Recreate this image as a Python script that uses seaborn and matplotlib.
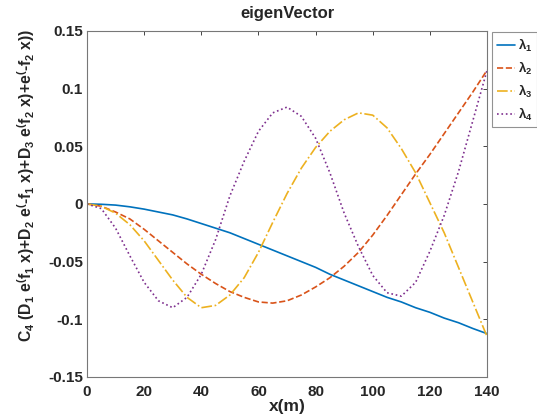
import numpy as np
import pandas as pd
import seaborn as sns
import matplotlib
matplotlib.use("Agg")
import matplotlib.pyplot as plt

x_m = [0, 5, 10, 15, 20, 25, 30, 35, 40, 45, 50, 55, 60, 65, 70,
       75, 80, 85, 90, 95, 100, 105, 110, 115, 120, 125, 130, 135, 140]

lambda1 = [0, -0.0003, -0.001, -0.0025, -0.0045, -0.007, -0.0095, -0.013, -0.017,
           -0.021, -0.025, -0.030, -0.035, -0.040, -0.045, -0.050, -0.055, -0.061,
           -0.066, -0.071, -0.076, -0.081, -0.085, -0.090, -0.094, -0.099, -0.103,
           -0.108, -0.1125]
lambda2 = [0, -0.002, -0.007, -0.013, -0.022, -0.032, -0.042, -0.052, -0.061,
           -0.069, -0.076, -0.081, -0.085, -0.086, -0.084, -0.079, -0.072, -0.064,
           -0.054, -0.042, -0.027, -0.010, 0.008, 0.026, 0.043, 0.061, 0.079,
           0.097, 0.116]
lambda3 = [0, -0.002, -0.008, -0.018, -0.032, -0.049, -0.066, -0.081, -0.090,
           -0.088, -0.079, -0.064, -0.042, -0.016, 0.009, 0.031, 0.049, 0.063,
           0.073, 0.079, 0.077, 0.066, 0.048, 0.027, 0.001, -0.025, -0.055,
           -0.085, -0.115]
lambda4 = [0, -0.004, -0.021, -0.045, -0.068, -0.084, -0.090, -0.081, -0.061,
           -0.031, 0.007, 0.037, 0.063, 0.079, 0.084, 0.076, 0.057, 0.027,
           -0.008, -0.037, -0.062, -0.077, -0.080, -0.068, -0.041, -0.010, 0.028,
           0.072, 0.116]

labels = [r"$\lambda_1$", r"$\lambda_2$", r"$\lambda_3$", r"$\lambda_4$"]
series = [lambda1, lambda2, lambda3, lambda4]
colors = ["#0072BD", "#D95319", "#EDB120", "#7E2F8E"]
styles = ["-", "--", "-.", ":"]

x_ticks = [0, 20, 40, 60, 80, 100, 120, 140]
y_ticks = [-0.15, -0.1, -0.05, 0, 0.05, 0.1, 0.15]
y_tick_labels = ["-0.15", "-0.1", "-0.05", "0", "0.05", "0.1", "0.15"]

sns.set_theme(style="white")
plt.rcParams["font.family"] = ["Liberation Sans", "DejaVu Sans"]
plt.rcParams["font.weight"] = "bold"
plt.rcParams["mathtext.default"] = "regular"

fig = plt.figure(figsize=(5.37, 4.16), dpi=100)
ax = fig.add_axes([0.162, 0.094, 0.745, 0.8315])

for vals, lab, col, ls in zip(series, labels, colors, styles):
    df = pd.DataFrame({"x": x_m, "y": vals})
    sns.lineplot(data=df, x="x", y="y", ax=ax, color=col, linestyle=ls,
                 linewidth=1.2, label=lab)

ax.set_xlim(0, 140)
ax.set_ylim(-0.15, 0.15)
ax.set_xticks(x_ticks)
ax.set_xticklabels([str(t) for t in x_ticks])
ax.set_yticks(y_ticks)
ax.set_yticklabels(y_tick_labels)
ax.tick_params(direction="in", top=True, right=True, length=3, width=0.6,
               colors="#262626", labelsize=11)
ax.tick_params(axis="x", pad=6)
ax.tick_params(axis="y", pad=3)
for sp in ax.spines.values():
    sp.set_color("#777777")
    sp.set_linewidth(0.8)

ax.set_title("eigenVector", fontsize=12, fontweight="bold", pad=9)
ax.set_xlabel("x(m)", fontsize=12.5, fontweight="bold", labelpad=0)
ax.set_ylabel(r"C$_4$ (D$_1$ e$^($f$_1$ x)+D$_2$ e$^($-f$_1$ x)+D$_3$ e$^($f$_2$ x)+e$^($-f$_2$ x))",
              fontsize=11.3, fontweight="bold")
ax.yaxis.set_label_coords(-0.125, 0.555)

leg = ax.legend(loc="upper left", bbox_to_anchor=(492 / 537, 1 - 32 / 416),
                bbox_transform=fig.transFigure, frameon=True, fancybox=False,
                fontsize=9.5, handlelength=1.4, borderaxespad=0, labelspacing=0.45,
                handletextpad=0.2, borderpad=0.35)
leg.get_frame().set_edgecolor("#777777")
leg.get_frame().set_linewidth(0.8)

fig.savefig("out.png", dpi=100)
